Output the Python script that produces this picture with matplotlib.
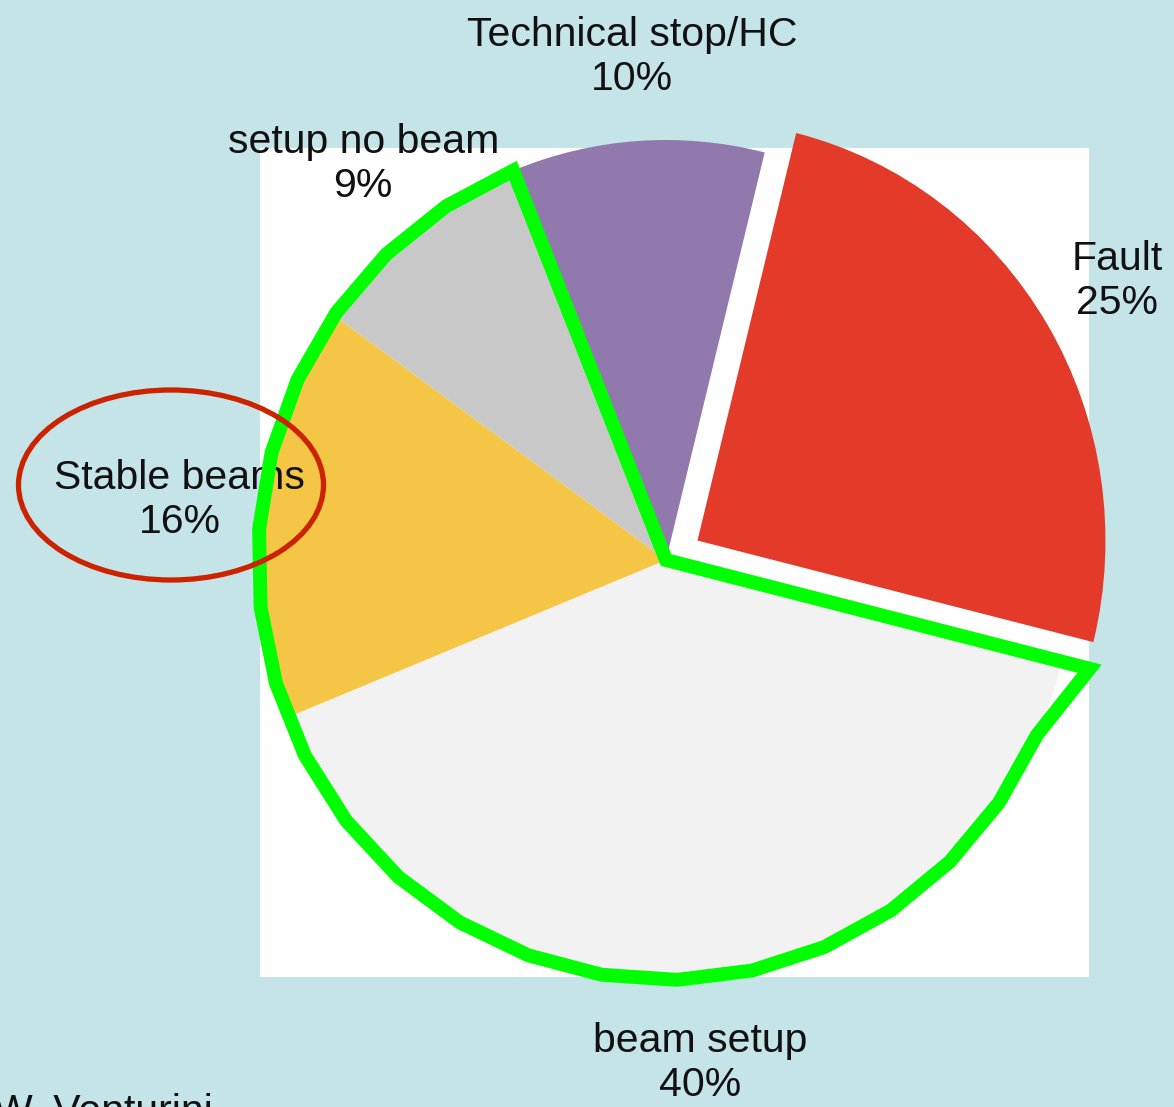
import numpy as np
import matplotlib
matplotlib.use("Agg")
import matplotlib.pyplot as plt
from matplotlib.patches import Rectangle, Ellipse, Polygon

# Beam time breakdown
categories = ["Fault", "beam setup", "Stable beams", "setup no beam", "Technical stop/HC"]
shares = [25, 40, 16, 9, 10]
colors = ["#e33a2a", "#f2f2f2", "#f5c546", "#c8c8c8", "#9279ad"]
explode = [0.09, 0, 0, 0, 0]

BG_COLOR = "#c4e4e8"
TEXT_COLOR = "#111111"
HILITE_GREEN = "#00ff00"
HILITE_RED = "#cc2200"

W, H = 1174, 1107
plt.rcParams["font.family"] = ["Liberation Sans", "DejaVu Sans"]

fig = plt.figure(figsize=(W / 100, H / 100), dpi=100)
fig.patch.set_facecolor(BG_COLOR)

# background layer in pixel coordinates
ax_bg = fig.add_axes([0, 0, 1, 1], zorder=0)
ax_bg.set_xlim(0, W)
ax_bg.set_ylim(H, 0)
ax_bg.axis("off")
ax_bg.add_patch(Rectangle((260, 148), 829, 829, facecolor="white", edgecolor="none"))
ax_bg.text(-6, 1093, "W. Venturini", fontsize=29.5, color=TEXT_COLOR, ha="left", va="top")

# pie layer: unit radius maps to 408 x 420 px around (666, 560)
cx, cy, rx, ry, lim = 666, 560, 408, 420, 1.5
ax = fig.add_axes([(cx - lim * rx) / W, (H - cy - lim * ry) / H,
                   2 * lim * rx / W, 2 * lim * ry / H], zorder=1)
labels = [f"{c}\n{v}%" for c, v in zip(categories, shares)]
wedges, texts = ax.pie(shares, labels=labels, colors=colors, explode=explode,
                       startangle=76, counterclock=False, labeldistance=1.2,
                       wedgeprops=dict(linewidth=0),
                       textprops=dict(fontsize=29.5, color=TEXT_COLOR))
for t in texts:
    t.set_ha("center")
    t.set_va("center")
ax.set_aspect("auto")
ax.set_xlim(-lim, lim)
ax.set_ylim(-lim, lim)
ax.patch.set_alpha(0)

# green outline round setup no beam, stable beams and beam setup
start = wedges[4].theta2 % 360  # setup no beam / technical stop edge
end = wedges[0].theta1 % 360    # fault / beam setup edge
if end < start:
    end += 360
ang = np.deg2rad(np.linspace(start, end, 23))
rad = np.ones_like(ang)
rad[-1] = 1.07  # last corner overshoots the rim a little
pts = [(0, 0)] + list(zip(rad * np.cos(ang), rad * np.sin(ang)))
ax.add_patch(Polygon(pts, closed=True, fill=False, edgecolor=HILITE_GREEN,
                     linewidth=10, joinstyle="miter", zorder=5, clip_on=False))

# red ring around the stable beams label
ax_top = fig.add_axes([0, 0, 1, 1], zorder=2)
ax_top.set_xlim(0, W)
ax_top.set_ylim(H, 0)
ax_top.axis("off")
ax_top.add_patch(Ellipse((171, 485), 305, 190, fill=False, edgecolor=HILITE_RED, linewidth=3.8))

fig.savefig("out.png", dpi=100, facecolor=BG_COLOR)
